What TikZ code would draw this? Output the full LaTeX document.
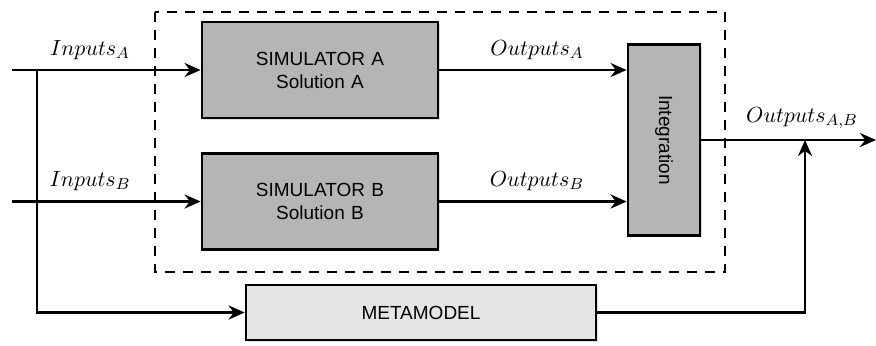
\documentclass[tikz,border=0pt]{standalone}
\usepackage{fontspec}
\setsansfont{Liberation Sans}
\usetikzlibrary{arrows.meta, positioning, shadows}
\tikzstyle{block} = [rectangle, draw, line width=1.4pt, fill=gray!58, text centered, font=\sffamily\fontsize{9.5}{11.5}\selectfont, drop shadow={shadow xshift=0.8pt, shadow yshift=-0.8pt, opacity=0.25}]
\tikzstyle{simblock} = [block, minimum width=118pt, minimum height=48pt, text width=100pt]
\tikzstyle{meta} = [block, fill=gray!20, minimum width=175pt, minimum height=27.5pt]
\tikzstyle{arrow} = [line width=1.4pt,->,>={Stealth[length=8pt,width=7pt]}]
\tikzstyle{frame} = [line width=1.2pt, dash pattern=on 5pt off 4pt]
\tikzstyle{lbl} = [font=\fontsize{11}{13}\selectfont, inner sep=1pt]

\begin{document}
\begin{tikzpicture}[x=0.5pt, y=-0.5pt]
    \useasboundingbox (0,0) rectangle (876,345);

    % Simulators
    \draw [frame] (155,12) rectangle (725,272);
    \node (simA) [simblock] at (320,70) {SIMULATOR A\\Solution A};
    \node (simB) [simblock] at (320,201.5) {SIMULATOR B\\Solution B};
    \node (integ) [block, minimum width=36pt, minimum height=95.5pt] at (664,140) {};
    \node [rotate=-90, font=\sffamily\fontsize{9.5}{11.5}\selectfont] at (integ.center) {Integration};
    \node (meta) [meta] at (421,312.5) {METAMODEL};

    % Free ends
    \coordinate (inA) at (12,70);
    \coordinate (inB) at (12,201.5);
    \coordinate (branch) at (37,70);
    \coordinate (join) at (805,140);
    \coordinate (out) at (876,140);

    % ==== Arrows
    \draw [arrow] (inA) -- (simA);
    \draw [arrow] (inB) -- (simB);
    \draw [arrow] (simA.east) -- (simA.east -| integ.west);
    \draw [arrow] (simB.east) -- (simB.east -| integ.west);
    \draw [arrow] (integ.east) -- (out);
    \draw [arrow] (branch) |- (meta.west);
    \draw [arrow] (meta.east) -| (join);

    % Labels
    \node (lblinA) [lbl] at (90,50) {$Inputs_A$};
    \node (lblinB) [lbl] at (90,181) {$Inputs_B$};
    \node (lbloutA) [lbl] at (537,50) {$Outputs_A$};
    \node (lbloutB) [lbl] at (537,181) {$Outputs_B$};
    \node (lbloutAB) [lbl] at (802,118) {$Outputs_{A,B}$};

\end{tikzpicture}
\end{document}
